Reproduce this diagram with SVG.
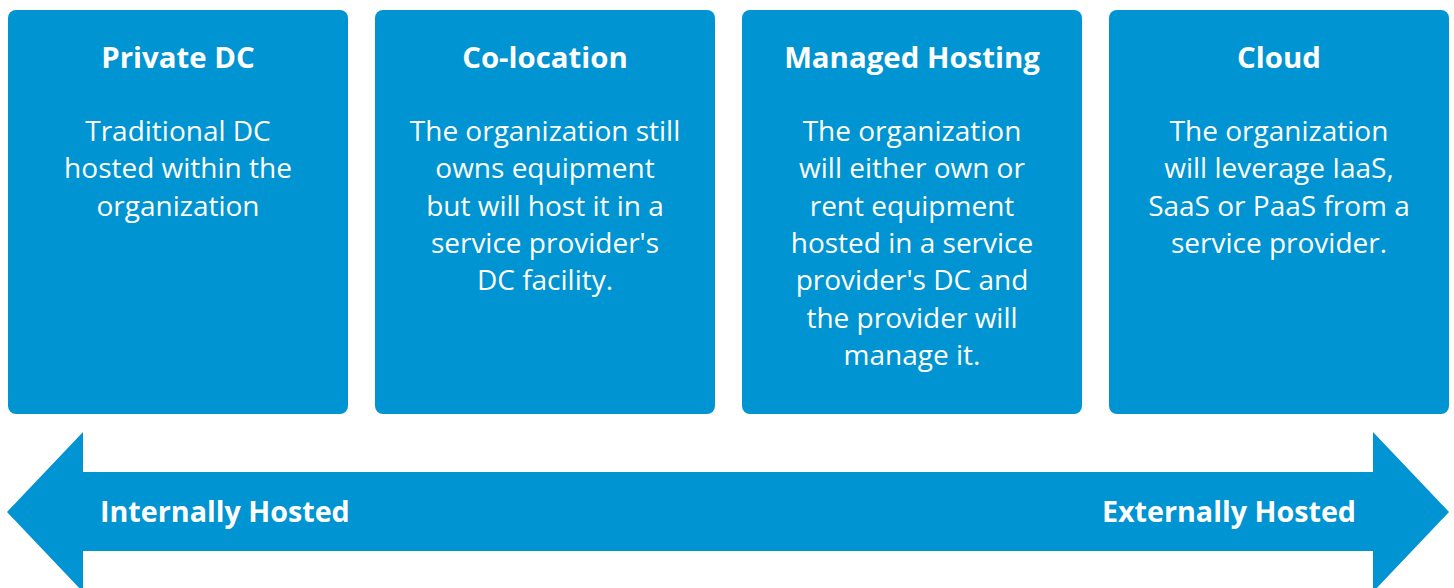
<svg xmlns="http://www.w3.org/2000/svg" width="1454" height="588" viewBox="0 0 1454 588">
<style>
.box{fill:#0094D2}
.t{font-family:"Open Sans","Noto Sans",sans-serif;fill:#fff;text-anchor:middle}
.h{font-size:29.4px;font-weight:bold}
.b{font-size:28px}
.a{font-family:"Open Sans","Noto Sans",sans-serif;fill:#fff;font-size:28.7px;font-weight:bold}
</style>
<rect width="1454" height="588" fill="#fff"/>
<g id="node-private-dc">
<rect class="box" x="8" y="10" width="340" height="404" rx="8"/>
<text class="t h" x="178" y="68">Private DC</text>
<text class="t b" x="178" y="141">Traditional DC</text>
<text class="t b" x="178" y="178.3">hosted within the</text>
<text class="t b" x="178" y="215.6">organization</text>
</g>
<g id="node-co-location">
<rect class="box" x="375" y="10" width="340" height="404" rx="8"/>
<text class="t h" x="545" y="68">Co-location</text>
<text class="t b" x="545" y="141">The organization still</text>
<text class="t b" x="545" y="178.3">owns equipment</text>
<text class="t b" x="545" y="215.6">but will host it in a</text>
<text class="t b" x="545" y="252.9">service provider's</text>
<text class="t b" x="545" y="290.2">DC facility.</text>
</g>
<g id="node-managed-hosting">
<rect class="box" x="742" y="10" width="340" height="404" rx="8"/>
<text class="t h" x="912" y="68">Managed Hosting</text>
<text class="t b" x="912" y="141">The organization</text>
<text class="t b" x="912" y="178.3">will either own or</text>
<text class="t b" x="912" y="215.6">rent equipment</text>
<text class="t b" x="912" y="252.9">hosted in a service</text>
<text class="t b" x="912" y="290.2">provider's DC and</text>
<text class="t b" x="912" y="327.5">the provider will</text>
<text class="t b" x="912" y="364.8">manage it.</text>
</g>
<g id="node-cloud">
<rect class="box" x="1109" y="10" width="340" height="404" rx="8"/>
<text class="t h" x="1279" y="68">Cloud</text>
<text class="t b" x="1279" y="141">The organization</text>
<text class="t b" x="1279" y="178.3">will leverage IaaS,</text>
<text class="t b" x="1279" y="215.6">SaaS or PaaS from a</text>
<text class="t b" x="1279" y="252.9">service provider.</text>
</g>
<g id="connectors">
<path class="box" d="M7,512 L83,432 L83,472 L1373,472 L1373,432 L1449,512 L1373,592 L1373,551 L83,551 L83,592 Z"/>
<text class="a" x="100" y="522">Internally Hosted</text>
<text class="a" x="1356" y="522" text-anchor="end">Externally Hosted</text>
</g>
</svg>
